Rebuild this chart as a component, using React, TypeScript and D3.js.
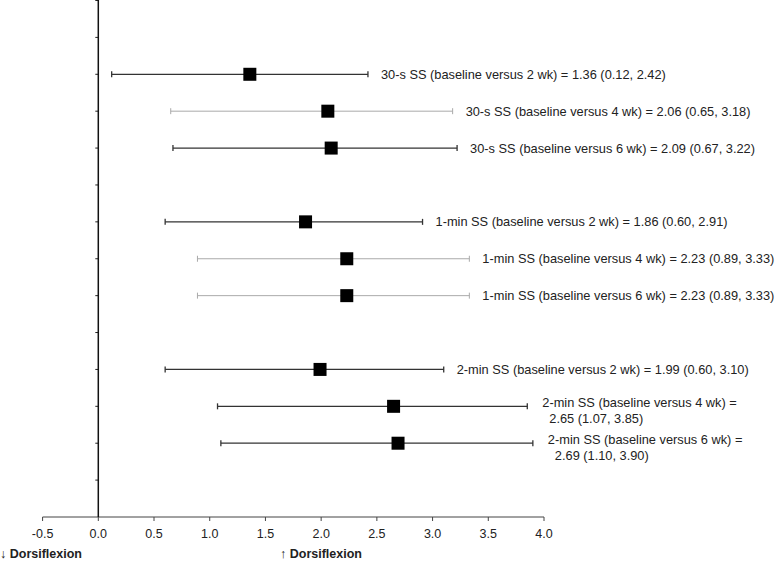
import React from "react";
import * as d3 from "d3";

const labelsLine1 = [
  "30-s SS (baseline versus 2 wk) = 1.36 (0.12, 2.42)",
  "30-s SS (baseline versus 4 wk) = 2.06 (0.65, 3.18)",
  "30-s SS (baseline versus 6 wk) = 2.09 (0.67, 3.22)",
  "1-min SS (baseline versus 2 wk) = 1.86 (0.60, 2.91)",
  "1-min SS (baseline versus 4 wk) = 2.23 (0.89, 3.33)",
  "1-min SS (baseline versus 6 wk) = 2.23 (0.89, 3.33)",
  "2-min SS (baseline versus 2 wk) = 1.99 (0.60, 3.10)",
  "2-min SS (baseline versus 4 wk) =",
  "2-min SS (baseline versus 6 wk) =",
];
const labelsLine2 = ["", "", "", "", "", "", "", "2.65 (1.07, 3.85)", "2.69 (1.10, 3.90)"];
const rowSlots = [2, 3, 4, 6, 7, 8, 10, 11, 12];
const estimates = [1.36, 2.06, 2.09, 1.86, 2.23, 2.23, 1.99, 2.65, 2.69];
const lower = [0.12, 0.65, 0.67, 0.6, 0.89, 0.89, 0.6, 1.07, 1.1];
const upper = [2.42, 3.18, 3.22, 2.91, 3.33, 3.33, 3.1, 3.85, 3.9];
const lightRow = [false, true, false, false, true, true, false, false, false];
const xTicks = [-0.5, 0, 0.5, 1, 1.5, 2, 2.5, 3, 3.5, 4];
const xTickLabels = ["-0.5", "0.0", "0.5", "1.0", "1.5", "2.0", "2.5", "3.0", "3.5", "4.0"];
const yTickSlots = d3.range(0, 14);

const W = 778;
const H = 562;
const FONT = "Liberation Sans";

export default function App() {
  const x = d3.scaleLinear().domain([0, 4]).range([98.3, 544]);
  const y = d3.scaleLinear().domain([0, 14]).range([0.5, 517]);
  const axisY = y(14);
  const sq = 13;
  const ts = { fontFamily: FONT };
  return (
    <svg
      width={W}
      height={H}
      style={{ position: "absolute", left: 0, top: 0, background: "#fff", fontFamily: FONT }}
    >
      {/* x axis */}
      <line x1={x(-0.5)} x2={x(4)} y1={axisY} y2={axisY} stroke="#444" strokeWidth={1} />
      {xTicks.map((t, i) => (
        <g key={t}>
          <line x1={x(t)} x2={x(t)} y1={axisY} y2={axisY + 4} stroke="#444" strokeWidth={1} />
          <text x={x(t)} y={axisY + 21} textAnchor="middle" fontSize={12.5} fill="#222" style={ts}>
            {xTickLabels[i]}
          </text>
        </g>
      ))}
      {/* y axis (null line) */}
      {yTickSlots.map((s) => (
        <line key={s} x1={x(0) - 3} x2={x(0)} y1={y(s)} y2={y(s)} stroke="#222" strokeWidth={1} />
      ))}
      <line x1={x(0)} x2={x(0)} y1={0} y2={axisY} stroke="#111" strokeWidth={1.5} />
      {/* rows */}
      {estimates.map((est, i) => {
        const cy = y(rowSlots[i]);
        const col = lightRow[i] ? "#aaa" : "#333";
        const sw = lightRow[i] ? 1 : 1.3;
        const tx = x(upper[i]) + 13;
        const two = labelsLine2[i] !== "";
        return (
          <g key={i}>
            <line x1={x(lower[i])} x2={x(upper[i])} y1={cy} y2={cy} stroke={col} strokeWidth={sw} />
            <line x1={x(lower[i])} x2={x(lower[i])} y1={cy - 3} y2={cy + 3} stroke={col} strokeWidth={sw} />
            <line x1={x(upper[i])} x2={x(upper[i])} y1={cy - 3} y2={cy + 3} stroke={col} strokeWidth={sw} />
            <rect x={x(est) - sq / 2} y={cy - sq / 2} width={sq} height={sq} fill="#000" />
            {two ? (
              <>
                <text x={tx + 2} y={cy + 1} fontSize={12.8} fill="#222" style={ts}>
                  {labelsLine1[i]}
                </text>
                <text x={tx + 9} y={cy + 17} fontSize={12.8} fill="#222" style={ts}>
                  {labelsLine2[i]}
                </text>
              </>
            ) : (
              <text x={tx} y={cy + 4.5} fontSize={12.8} fill="#222" style={ts}>
                {labelsLine1[i]}
              </text>
            )}
          </g>
        );
      })}
      <text x={0} y={558} fontSize={12.5} fontWeight="bold" fill="#222" style={ts}>
        ↓ Dorsiflexion
      </text>
      <text x={280} y={558} fontSize={12.5} fontWeight="bold" fill="#222" style={ts}>
        ↑ Dorsiflexion
      </text>
    </svg>
  );
}
